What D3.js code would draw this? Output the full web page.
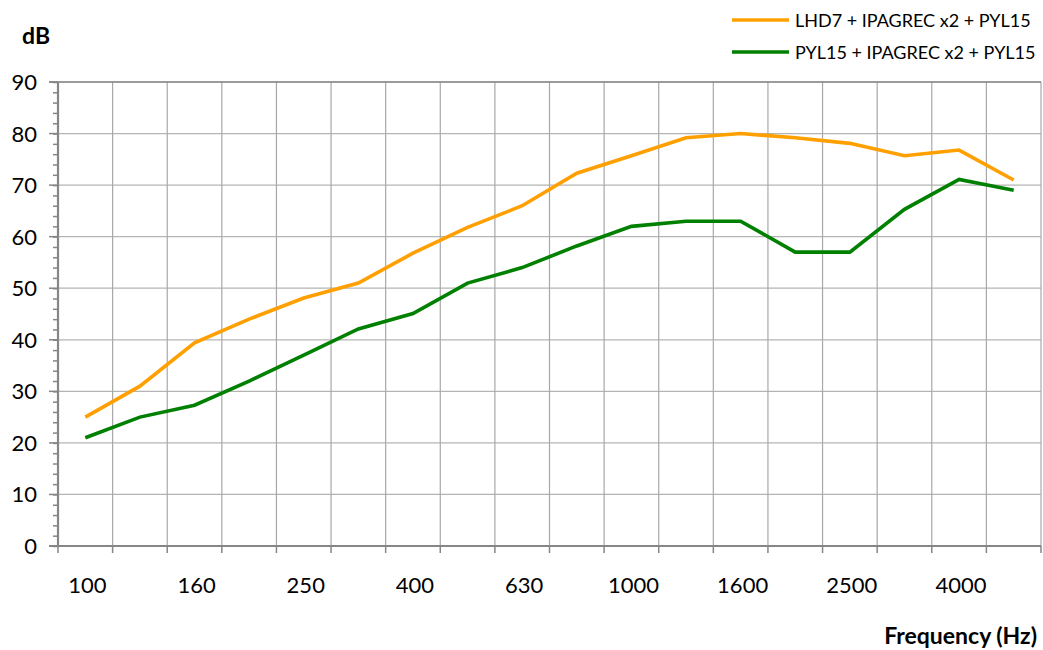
<!DOCTYPE html>
<html>
<head>
<meta charset="utf-8">
<script src="https://cdn.jsdelivr.net/npm/d3@7"></script>
<style>
  body { margin: 0; background: #fff; }
  text { font-family: Lato, "Open Sans", sans-serif; fill: #000; }
</style>
</head>
<body>
<div id="chart"></div>
<script>
// third-octave bands (Hz)
var bands = ["100","125","160","200","250","315","400","500","630","800","1000","1250","1600","2000","2500","3150","4000","5000"];
var shownLabels = ["100","160","250","400","630","1000","1600","2500","4000"];
var seriesNames = ["LHD7 + IPAGREC x2 + PYL15", "PYL15 + IPAGREC x2 + PYL15"];
var seriesColors = ["#ffa000", "#008000"];
var lhd7 = [25, 31, 39.4, 44, 48.1, 51, 56.8, 61.8, 66, 72.3, 75.7, 79.2, 80, 79.2, 78.1, 75.7, 76.8, 71];
var pyl15 = [21, 25, 27.3, 32, 37, 42.1, 45.1, 51, 54, 58.2, 62, 63, 63, 57, 57, 65.3, 71.1, 69];
var yTicks = [0, 10, 20, 30, 40, 50, 60, 70, 80, 90];

var width = 1043, height = 650;
var plotLeft = 58, plotRight = 1041, plotTop = 82, plotBottom = 546;

var svg = d3.select("#chart").append("svg")
    .attr("width", width)
    .attr("height", height);

var x = d3.scaleBand().domain(bands).range([plotLeft, plotRight]).paddingInner(0).paddingOuter(0);
var y = d3.scaleLinear().domain([0, 90]).range([plotBottom, plotTop]);

// horizontal grid
svg.append("g").selectAll("line")
    .data(yTicks.slice(1))
    .enter().append("line")
    .attr("x1", plotLeft).attr("x2", plotRight)
    .attr("y1", function(d) { return y(d); })
    .attr("y2", function(d) { return y(d); })
    .attr("stroke", "#b4b4b4")
    .attr("stroke-width", 1.2);

// vertical grid at band boundaries
var bounds = bands.map(function(b) { return x(b); }).concat([plotRight]);
svg.append("g").selectAll("line")
    .data(bounds.slice(1))
    .enter().append("line")
    .attr("x1", function(d) { return d; })
    .attr("x2", function(d) { return d; })
    .attr("y1", plotTop).attr("y2", plotBottom)
    .attr("stroke", "#a8a8a8")
    .attr("stroke-width", 1.2);

// y axis with minor ticks every 2 dB
var yAxis = svg.append("g").attr("transform", "translate(" + plotLeft + ",0)")
    .call(d3.axisLeft(y).tickValues(d3.range(0, 91, 2)).tickSize(5).tickFormat(""));
yAxis.selectAll(".tick line").attr("stroke", "#868686").attr("stroke-width", 1.5);
yAxis.select(".domain").remove();
svg.append("g").selectAll("line")
    .data(yTicks)
    .enter().append("line")
    .attr("x1", plotLeft - 9).attr("x2", plotLeft)
    .attr("y1", function(d) { return y(d); })
    .attr("y2", function(d) { return y(d); })
    .attr("stroke", "#868686")
    .attr("stroke-width", 1.5);
svg.append("g").selectAll("text")
    .data(yTicks)
    .enter().append("text")
    .attr("x", 37)
    .attr("y", function(d) { return y(d) + 8; })
    .attr("text-anchor", "end")
    .style("font-size", "22px")
    .text(function(d) { return d; });

// x axis ticks at boundaries
svg.append("g").selectAll("line")
    .data(bounds)
    .enter().append("line")
    .attr("x1", function(d) { return d; })
    .attr("x2", function(d) { return d; })
    .attr("y1", plotBottom).attr("y2", plotBottom + 7)
    .attr("stroke", "#868686")
    .attr("stroke-width", 1.5);
svg.append("g").selectAll("text")
    .data(shownLabels)
    .enter().append("text")
    .attr("x", function(d) { return x(d) + x.bandwidth() / 2 + 2; })
    .attr("y", 593)
    .attr("text-anchor", "middle")
    .style("font-size", "22px")
    .text(function(d) { return d; });

// axis lines
svg.append("line").attr("x1", plotLeft).attr("x2", plotLeft).attr("y1", plotTop).attr("y2", plotBottom)
    .attr("stroke", "#868686").attr("stroke-width", 2.2);
svg.append("line").attr("x1", plotLeft - 9).attr("x2", plotRight).attr("y1", plotBottom).attr("y2", plotBottom)
    .attr("stroke", "#868686").attr("stroke-width", 2.2);
svg.append("line").attr("x1", plotLeft - 9).attr("x2", plotRight).attr("y1", plotTop).attr("y2", plotTop)
    .attr("stroke", "#868686").attr("stroke-width", 1.5);

// series
var line = d3.line()
    .x(function(d, i) { return x(bands[i]) + x.bandwidth() / 2; })
    .y(function(d) { return y(d); });
[lhd7, pyl15].forEach(function(vals, k) {
    svg.append("path")
        .datum(vals)
        .attr("d", line)
        .attr("fill", "none")
        .attr("stroke", seriesColors[k])
        .attr("stroke-width", 3.6)
        .attr("stroke-linejoin", "miter");
});

// axis titles
svg.append("text").attr("x", 22).attr("y", 44)
    .style("font-size", "23px").style("font-weight", "bold").text("dB");
svg.append("text").attr("x", 1037).attr("y", 644).attr("text-anchor", "end")
    .style("font-size", "23px").style("font-weight", "bold").text("Frequency (Hz)");

// legend
seriesNames.forEach(function(name, k) {
    var ly = 20 + k * 32;
    svg.append("line").attr("x1", 732).attr("x2", 789).attr("y1", ly).attr("y2", ly)
        .attr("stroke", seriesColors[k]).attr("stroke-width", 3.6);
    svg.append("text").attr("x", 795).attr("y", ly + 7)
        .style("font-size", "18px").text(name);
});
</script>
</body>
</html>
